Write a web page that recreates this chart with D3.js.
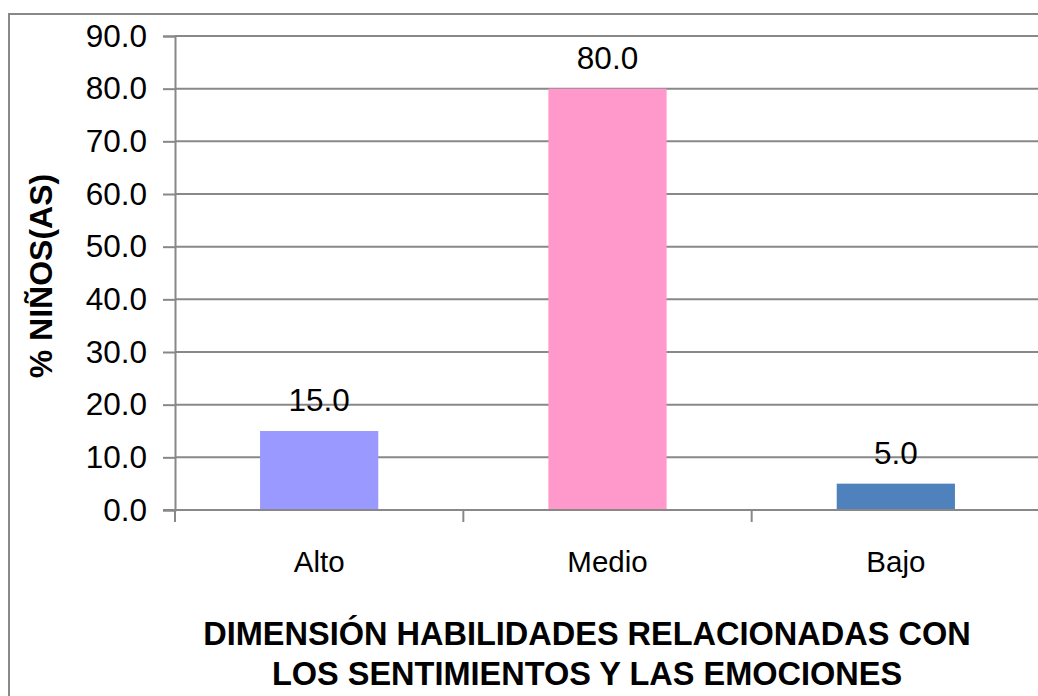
<!DOCTYPE html>
<html>
<head>
<meta charset="utf-8">
<script src="https://cdn.jsdelivr.net/npm/d3@7"></script>
<style>
  html, body { margin: 0; padding: 0; background: #fff; }
  svg text { font-family: "Liberation Sans", Arial, sans-serif; }
</style>
</head>
<body>
<script>
    'use strict';

    var categories = ['Alto', 'Medio', 'Bajo'];
    var values = [15.0, 80.0, 5.0];
    var colors = ['#9999FF', '#FF99CC', '#4F81BD'];
    var yTicks = [0, 10, 20, 30, 40, 50, 60, 70, 80, 90];

    var width = 1038;
    var height = 696;

    var svg = d3.select('body')
        .append('svg')
        .attr('width', width)
        .attr('height', height)
        ;

    // chart frame (runs off the right and bottom edges like the original)
    svg.append('rect')
        .attr('x', 9)
        .attr('y', 14)
        .attr('width', 1060)
        .attr('height', 720)
        .attr('fill', 'none')
        .attr('stroke', '#888')
        .attr('stroke-width', 2)
        ;

    var x = d3.scaleBand()
        .domain(categories)
        .range([175, 1040])
        .padding(0)
        ;

    var y = d3.scaleLinear()
        .domain([0, 90])
        .range([510, 36])
        ;

    // gridlines + y axis
    var yAxis = svg.append('g')
        .attr('transform', 'translate(175,0)')
        .call(d3.axisLeft(y)
            .tickValues(yTicks)
            .tickSize(12)
            .tickPadding(16)
            .tickFormat(d3.format('.1f')))
        ;
    yAxis.select('.domain').attr('stroke', '#888').attr('stroke-width', 2);
    yAxis.selectAll('.tick line').attr('stroke', '#888').attr('stroke-width', 2);
    yAxis.selectAll('.tick text')
        .attr('fill', '#000')
        .style('font-size', '31.5px')
        ;

    svg.append('g')
        .selectAll('line')
        .data(yTicks.filter(function (d) { return d > 0; }))
        .enter()
        .append('line')
        .attr('x1', 175)
        .attr('x2', width + 10)
        .attr('y1', function (d) { return y(d); })
        .attr('y2', function (d) { return y(d); })
        .attr('stroke', '#888')
        .attr('stroke-width', 2)
        ;

    // bars
    var barW = x.bandwidth() * 0.41;
    svg.append('g')
        .selectAll('rect')
        .data(values)
        .enter()
        .append('rect')
        .attr('x', function (d, i) { return x(categories[i]) + (x.bandwidth() - barW) / 2; })
        .attr('y', function (d) { return y(d); })
        .attr('width', barW)
        .attr('height', function (d) { return y(0) - y(d); })
        .attr('fill', function (d, i) { return colors[i]; })
        ;

    // x axis
    var xAxis = svg.append('g')
        .attr('transform', 'translate(0,' + y(0) + ')')
        ;
    xAxis.append('line')
        .attr('x1', 163)
        .attr('x2', width + 10)
        .attr('stroke', '#888')
        .attr('stroke-width', 2)
        ;
    xAxis.selectAll('line.tk')
        .data(categories.concat(['end']))
        .enter()
        .append('line')
        .attr('class', 'tk')
        .attr('x1', function (d, i) { return 175 + i * x.step(); })
        .attr('x2', function (d, i) { return 175 + i * x.step(); })
        .attr('y1', 0)
        .attr('y2', 12)
        .attr('stroke', '#888')
        .attr('stroke-width', 2)
        ;
    xAxis.selectAll('text')
        .data(categories)
        .enter()
        .append('text')
        .attr('x', function (d) { return x(d) + x.bandwidth() / 2; })
        .attr('y', 62)
        .attr('text-anchor', 'middle')
        .style('font-size', '29.5px')
        .text(function (d) { return d; })
        ;

    // value labels
    svg.append('g')
        .selectAll('text')
        .data(values)
        .enter()
        .append('text')
        .attr('x', function (d, i) { return x(categories[i]) + x.bandwidth() / 2; })
        .attr('y', function (d) { return y(d) - 20; })
        .attr('text-anchor', 'middle')
        .style('font-size', '31.5px')
        .text(d3.format('.1f'))
        ;

    // axis titles
    svg.append('text')
        .attr('transform', 'translate(52,276) rotate(-90)')
        .attr('text-anchor', 'middle')
        .style('font-size', '32px')
        .style('font-weight', 'bold')
        .text('% NIÑOS(AS)')
        ;

    svg.append('text')
        .attr('x', 587)
        .attr('y', 645)
        .attr('text-anchor', 'middle')
        .style('font-size', '32.5px')
        .style('font-weight', 'bold')
        .text('DIMENSIÓN HABILIDADES RELACIONADAS CON')
        ;
    svg.append('text')
        .attr('x', 587)
        .attr('y', 685)
        .attr('text-anchor', 'middle')
        .style('font-size', '32.5px')
        .style('font-weight', 'bold')
        .text('LOS SENTIMIENTOS Y LAS EMOCIONES')
        ;
</script>
</body>
</html>
